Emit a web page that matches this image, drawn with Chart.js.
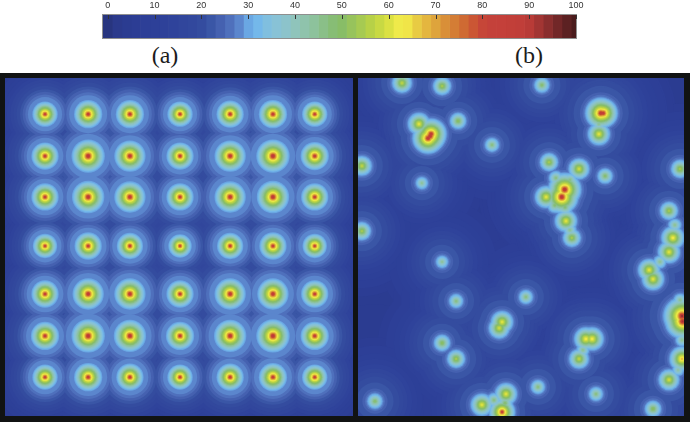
<!DOCTYPE html>
<html>
<head>
<meta charset="utf-8">
<script src="https://cdn.jsdelivr.net/npm/chart.js@4"></script>
<style>
    html, body { margin: 0; padding: 0; background: #fff; }
    #page { position: relative; width: 690px; height: 422px; overflow: hidden; }
    #frame { position: absolute; left: 0; top: 73px; width: 690px; height: 349px; background: #111313; }
    .box { position: absolute; }
    #gridBox { left: 5px; top: 78px; width: 348px; height: 338px; }
    #randomBox { left: 358px; top: 78px; width: 326px; height: 338px; }
    #barBox { left: 0; top: 0; width: 690px; height: 40px; }
    #gridBox canvas, #randomBox canvas { filter: blur(0.7px); }
    #barBox canvas { filter: blur(0.4px); }
    .tag { position: absolute; top: 42px; width: 60px; text-align: center; color: #1c1c1c;
           font: 24px "Liberation Serif", serif; }
</style>
</head>
<body>
<div id="page">
    <div id="frame"></div>
    <div class="box" id="barBox"><canvas id="colorbar"></canvas></div>
    <div class="tag" style="left:135px">(a)</div>
    <div class="tag" style="left:499px">(b)</div>
    <div class="box" id="gridBox"><canvas id="gridChart"></canvas></div>
    <div class="box" id="randomBox"><canvas id="randomChart"></canvas></div>
</div>
<script>
// Colour scale, one colour per 2 units from 0 to 100
const scaleColors = [
    '#28357f', '#2b3a8c', '#2b3c91', '#2c3d94', '#2d3f97', '#2d4098', '#2e4199', '#2f439b', '#31469c', '#32489d',
    '#344c9f', '#3a56a6', '#4561b0', '#4f70bc', '#5b86cd', '#6aa7e3', '#74b8ea', '#80bfdf', '#88c2d6', '#8cc3cb',
    '#8fc4bb', '#8fc3ac', '#8dc29c', '#8abf88', '#87bd75', '#88bd67', '#97c35c', '#a6ca52', '#b7d147', '#c8d943',
    '#dbe143', '#efea4a', '#f0e548', '#e8cb43', '#e4b63f', '#dea43c', '#d98f38', '#d47d35', '#cf6a33', '#cb5634',
    '#c64638', '#c4413a', '#c4403a', '#c23f39', '#c03e39', '#b83b37', '#a23533', '#8a2e2e', '#722728', '#5c2122',
    '#4a1b1c'
];
const scaleTicks = [0, 10, 20, 30, 40, 50, 60, 70, 80, 90, 100];

// Panel (a): regular grid of sources, positions in percent of the panel
const gridColumns = [11.5, 23.9, 35.9, 50.3, 64.7, 77, 89];
const gridRows = [10.7, 23.1, 35.2, 49.7, 63.9, 76.3, 88.5];
const gridPeaks = [
    [84, 87, 87, 84, 86, 87, 84],
    [86, 92, 90, 86, 90, 92, 87],
    [86, 91, 90, 86, 90, 91, 86],
    [83, 86, 85, 82, 85, 86, 83],
    [86, 90, 90, 86, 90, 90, 86],
    [87, 92, 91, 87, 91, 92, 87],
    [84, 87, 86, 84, 86, 87, 84]
];

// Panel (b): scattered sources, positions in percent of the panel
const randomX = [13.5, 25.8, 18.7, 22.1, 30.7, 41.1, 56.4, 74.5, 73.9, 1.2, 19.6, 58.6, 67.8, 75.8, 57.7,
    62.5, 63.8, 65.6, 1.2, 98.8, 95.4, 96.6, 95.4, 89.3, 90.5, 25.8, 30.1, 51.5, 44.2, 43.3,
    69.9, 71.8, 67.8, 25.8, 30.1, 99.4, 99.4, 95.4, 5.2, 38, 45.4, 44.2, 55.2, 73, 90.5,
    63.4, 21.5, 22.4, 75.2, 99.6,
    60.7, 65, 60.4, 63.5, 65, 73.9, 20.6, 97.2, 92.6, 98.8, 99.4, 98.2, 41.7, 45.1, 69];
const randomY = [1.5, 2.4, 13.6, 17.2, 12.7, 19.8, 2.1, 10.4, 16.6, 26, 31.1, 24.9, 26.9, 29, 35.2,
    35.2, 42.3, 47.3, 45.3, 26.9, 39.3, 47.3, 51.5, 56.8, 59.5, 54.4, 66, 64.8, 72.2, 74,
    77.2, 77.2, 83.1, 78.4, 83.1, 70.4, 83.1, 89.3, 95.6, 96.7, 93.5, 98.8, 91.4, 93.5, 97.9,
    33, 17.8, 16.6, 10.4, 72,
    29.6, 30.2, 37.6, 38.2, 45, 13.6, 15.4, 43.5, 54.4, 65.7, 77.5, 86.4, 95.3, 96.2, 80.5];
const randomPeaks = [58, 55, 62, 90, 52, 48, 50, 90, 62, 58, 45, 55, 60, 50, 62,
    92, 62, 55, 55, 55, 55, 65, 62, 62, 62, 45, 48, 48, 62, 60,
    65, 65, 58, 52, 55, 96, 70, 60, 50, 62, 62, 85, 48, 48, 52,
    92, 90, 90, 88, 94,
    48, 48, 50, 50, 46, 46, 48, 46, 46, 46, 46, 44, 48, 50, 46];

// How far each contour level sits from a source, in px
const falloffLevels = [100, 90, 80, 70, 62, 50, 40, 33, 30, 28, 26, 24, 22, 20, 15, 10, 5, 0];
const gridFalloff = [0, 0.8, 1.6, 3, 4.5, 8, 11, 13.5, 15, 20, 23, 26, 29, 33, 42, 52, 66, 220];
const randomFalloff = [0, 0.8, 1.6, 3, 4.5, 8, 11, 13.5, 15, 16, 17.5, 20, 26, 32, 42, 55, 75, 220];

function radiusAt(level, radii) {
    for (let i = 1; i < falloffLevels.length; i++) {
        if (level >= falloffLevels[i]) {
            const t = (falloffLevels[i - 1] - level) / (falloffLevels[i - 1] - falloffLevels[i]);
            return radii[i - 1] + t * (radii[i] - radii[i - 1]);
        }
    }
    return radii[radii.length - 1];
}

// One bubble dataset per contour level, highest first so it ends up on top
function contourDatasets(sources, radii) {
    const datasets = [];
    for (let i = scaleColors.length - 1; i >= 0; i--) {
        const level = i * 2;
        const points = sources.filter(s => s.peak > level).map(s => {
            // hotter sources spread a little wider
            const spread = s.peak > 80 ? 1 + (s.peak - 88) * 0.03 : 1;
            return {
                x: s.x,
                y: s.y,
                r: (radiusAt(level, radii) - radiusAt(s.peak, radii)) * spread + 0.6
            };
        });
        datasets.push({ data: points, backgroundColor: scaleColors[i], borderWidth: 0, clip: 0 });
    }
    return datasets;
}

function drawPanel(id, sources, radii) {
    new Chart(document.getElementById(id), {
        type: 'bubble',
        data: { datasets: contourDatasets(sources, radii) },
        options: {
            responsive: true,
            maintainAspectRatio: false,
            animation: false,
            events: [],
            // big contour rings would otherwise eat the whole plot as padding
            layout: { autoPadding: false },
            plugins: { legend: { display: false }, tooltip: { enabled: false } },
            scales: {
                x: { type: 'linear', min: 0, max: 100, display: false },
                y: { type: 'linear', min: 0, max: 100, reverse: true, display: false }
            }
        }
    });
}

const gridSources = [];
gridRows.forEach((y, r) => {
    gridColumns.forEach((x, c) => gridSources.push({ x: x, y: y, peak: gridPeaks[r][c] }));
});
const randomSources = randomX.map((x, i) => ({ x: x, y: randomY[i], peak: randomPeaks[i] }));

drawPanel('gridChart', gridSources, gridFalloff);
drawPanel('randomChart', randomSources, randomFalloff);

// Colour bar: ticks sit inside the top of the bar, with a thin grey outline
const barOutline = {
    id: 'barOutline',
    afterDatasetsDraw(chart) {
        const { ctx, chartArea, scales } = chart;
        ctx.save();
        ctx.strokeStyle = '#8f8f8f';
        ctx.lineWidth = 1;
        ctx.strokeRect(chartArea.left - 0.5, chartArea.top - 0.5, chartArea.width + 1, chartArea.height + 1);
        ctx.strokeStyle = '#333';
        scaleTicks.forEach(t => {
            const x = Math.round(scales.x.getPixelForValue(t)) + 0.5;
            ctx.beginPath();
            ctx.moveTo(x, chartArea.top);
            ctx.lineTo(x, chartArea.top + 4);
            ctx.stroke();
        });
        ctx.restore();
    }
};

new Chart(document.getElementById('colorbar'), {
    type: 'bar',
    data: {
        labels: [''],
        datasets: scaleColors.map((color, i) => ({
            data: [[Math.max(-1, i * 2 - 1), Math.min(100, i * 2 + 1)]],
            backgroundColor: color,
            borderWidth: 0
        }))
    },
    options: {
        indexAxis: 'y',
        responsive: true,
        maintainAspectRatio: false,
        animation: false,
        events: [],
        layout: { padding: { left: 103, right: 114, bottom: 2 } },
        datasets: { bar: { grouped: false, categoryPercentage: 1, barPercentage: 1 } },
        plugins: { legend: { display: false }, tooltip: { enabled: false } },
        scales: {
            x: {
                type: 'linear',
                position: 'top',
                min: -1,
                max: 100,
                afterBuildTicks: axis => { axis.ticks = scaleTicks.map(v => ({ value: v })); },
                afterFit: axis => { axis.height = 15; },
                grid: { display: false, drawTicks: false },
                border: { display: false },
                ticks: {
                    autoSkip: false,
                    maxRotation: 0,
                    padding: 4,
                    color: '#333',
                    font: { family: '"Liberation Sans", sans-serif', size: 9 }
                }
            },
            y: { display: false }
        }
    },
    plugins: [barOutline]
});
</script>
</body>
</html>
